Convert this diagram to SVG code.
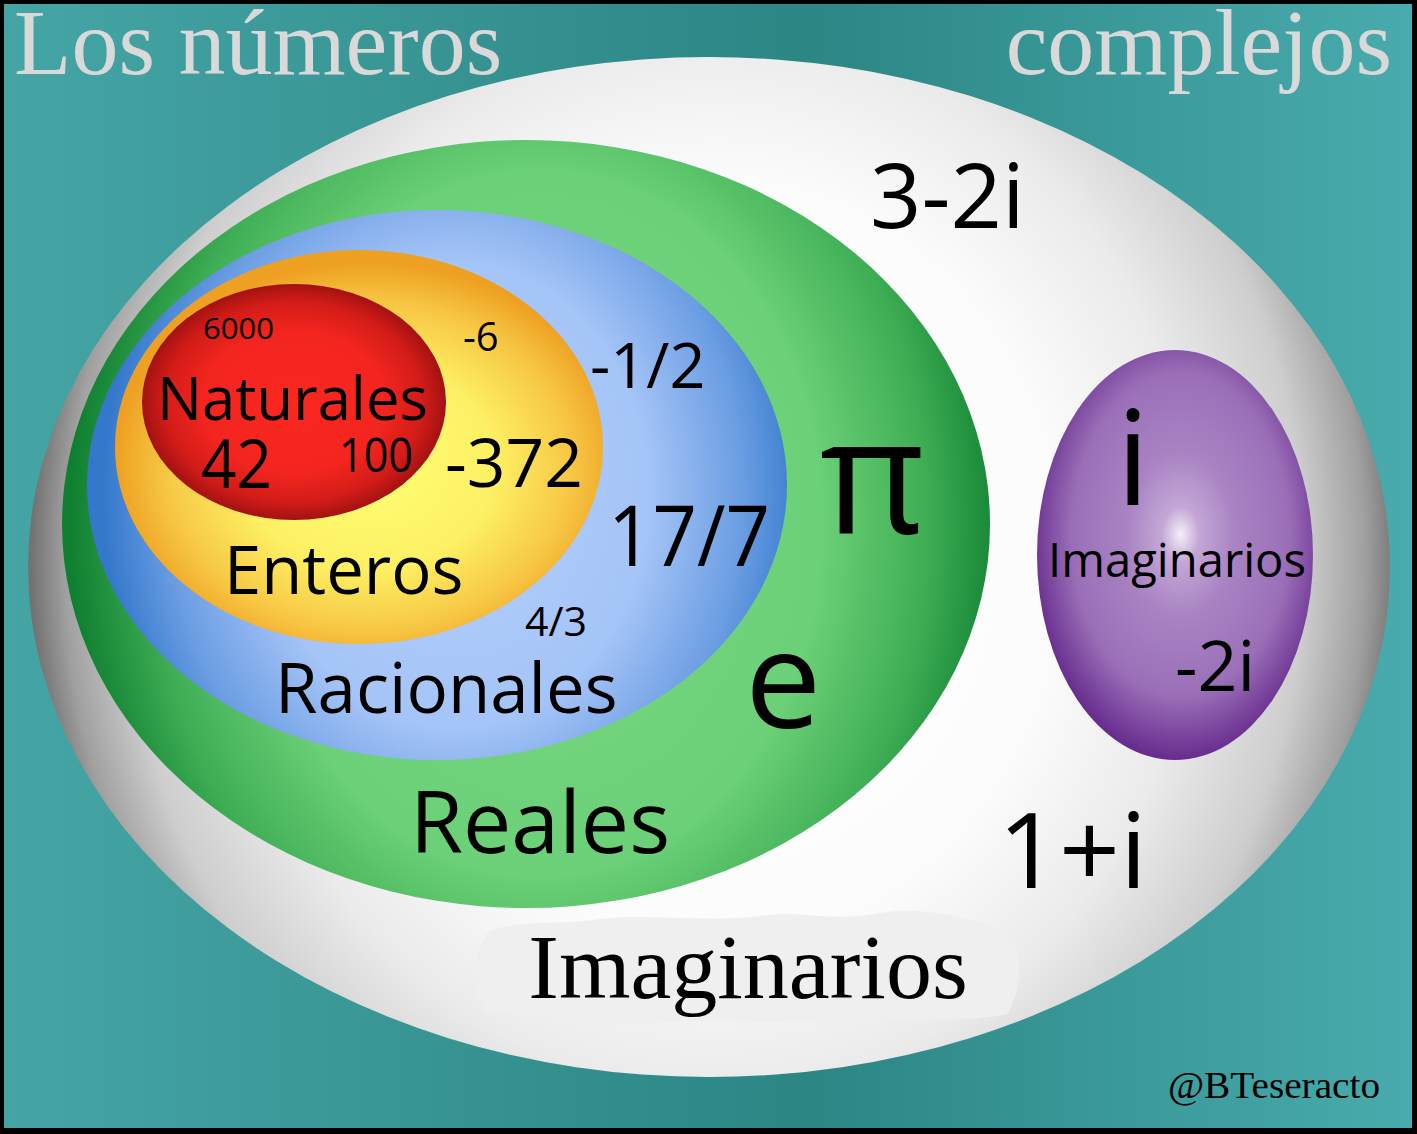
<svg xmlns="http://www.w3.org/2000/svg" width="1417" height="1134" viewBox="0 0 1417 1134">
  <defs>
    <linearGradient id="bg" x1="0" y1="0" x2="1" y2="0">
      <stop offset="0" stop-color="#45a5a5"/>
      <stop offset="0.57" stop-color="#2b8684"/>
      <stop offset="1" stop-color="#49abad"/>
    </linearGradient>
    <radialGradient id="gComplejos" gradientUnits="userSpaceOnUse" cx="715" cy="560" r="684" gradientTransform="translate(715 560) scale(1 1.1) translate(-715 -560)">
      <stop offset="0" stop-color="#ffffff"/>
      <stop offset="0.5" stop-color="#fcfcfc"/>
      <stop offset="0.7" stop-color="#ebebeb"/>
      <stop offset="0.86" stop-color="#cecece"/>
      <stop offset="0.95" stop-color="#a0a0a0"/>
      <stop offset="1" stop-color="#727272"/>
    </radialGradient>
    <radialGradient id="gReales" gradientUnits="userSpaceOnUse" cx="540" cy="524" r="470" gradientTransform="translate(540 524) scale(1 1.25) translate(-540 -524)">
      <stop offset="0" stop-color="#7bd985"/>
      <stop offset="0.6" stop-color="#6bd077"/>
      <stop offset="0.82" stop-color="#3fae55"/>
      <stop offset="1" stop-color="#0f7f31"/>
    </radialGradient>
    <radialGradient id="gRacionales" gradientUnits="userSpaceOnUse" cx="455" cy="495" r="352" gradientTransform="translate(455 495) scale(1 1.2) translate(-455 -495)">
      <stop offset="0" stop-color="#b3cffb"/>
      <stop offset="0.55" stop-color="#a5c4f7"/>
      <stop offset="0.82" stop-color="#6a9de2"/>
      <stop offset="1" stop-color="#3478cc"/>
    </radialGradient>
    <radialGradient id="gEnteros" cx="0.52" cy="0.55" r="0.52">
      <stop offset="0" stop-color="#ffff74"/>
      <stop offset="0.5" stop-color="#fdf064"/>
      <stop offset="0.8" stop-color="#f7c744"/>
      <stop offset="1" stop-color="#eea022"/>
    </radialGradient>
    <radialGradient id="gNaturales" cx="0.5" cy="0.5" r="0.5">
      <stop offset="0" stop-color="#f92820"/>
      <stop offset="0.6" stop-color="#f3251f"/>
      <stop offset="0.85" stop-color="#d21c18"/>
      <stop offset="1" stop-color="#a31212"/>
    </radialGradient>
    <radialGradient id="gImag" cx="0.52" cy="0.45" r="0.56">
      <stop offset="0" stop-color="#f5f0f8"/>
      <stop offset="0.12" stop-color="#c4a7d6"/>
      <stop offset="0.35" stop-color="#a983c3"/>
      <stop offset="0.7" stop-color="#9a6fb8"/>
      <stop offset="1" stop-color="#64288b"/>
    </radialGradient>
    <style>
      .sans { font-family: "Open Sans", "Noto Sans", "DejaVu Sans", sans-serif; fill: #000; }
      .serif { font-family: "Liberation Serif", "Times New Roman", serif; }
      .title { fill: #d9d9d9; font-size: 94px; }
    </style>
  </defs>

  <rect x="0" y="0" width="1417" height="1134" fill="#000"/>
  <rect x="4" y="4" width="1408" height="1124" fill="url(#bg)"/>

  <text class="serif title" x="14" y="74">Los números</text>
  <text class="serif title" x="1392" y="74" text-anchor="end">complejos</text>

  <g id="complejos">
    <ellipse cx="709" cy="567" rx="681" ry="510" fill="url(#gComplejos)"/>
    <path d="M488 932 C520 918 560 926 600 919 C650 913 700 923 760 916 C800 909 830 923 880 913 C920 906 960 916 1010 931 C1025 960 1020 990 1008 1014 C960 1024 900 1017 840 1021 C780 1025 720 1017 660 1023 C600 1027 540 1019 485 1011 C470 990 472 956 488 932 Z" fill="#efefef"/>
    <text class="sans" x="870" y="228" font-size="90">3-2i</text>
    <text class="sans" x="998" y="888" font-size="104" textLength="149" lengthAdjust="spacingAndGlyphs">1+i</text>
    <text class="serif" x="748" y="998" font-size="92" text-anchor="middle" fill="#000">Imaginarios</text>
  </g>

  <g id="reales">
    <ellipse cx="526" cy="524" rx="464" ry="384" fill="url(#gReales)"/>
    <text class="sans" x="820" y="533" font-size="162">π</text>
    <text class="sans" x="745" y="728" font-size="136">e</text>
    <text class="sans" x="410" y="853" font-size="86">Reales</text>
  </g>

  <g id="racionales">
    <ellipse cx="437" cy="485" rx="350" ry="275" fill="url(#gRacionales)"/>
    <text class="sans" x="590" y="388" font-size="63">-1/2</text>
    <text class="sans" x="608" y="566" font-size="84" textLength="162" lengthAdjust="spacingAndGlyphs">17/7</text>
    <text class="sans" x="525" y="636" font-size="41">4/3</text>
    <text class="sans" x="275" y="713" font-size="69">Racionales</text>
  </g>

  <g id="enteros">
    <ellipse cx="359" cy="447" rx="244" ry="197" fill="url(#gEnteros)"/>
    <text class="sans" x="463" y="351" font-size="40">-6</text>
    <text class="sans" x="445" y="487" font-size="68" textLength="138" lengthAdjust="spacingAndGlyphs">-372</text>
    <text class="sans" x="224" y="594" font-size="67">Enteros</text>
  </g>

  <g id="naturales">
    <ellipse cx="294" cy="402" rx="152" ry="118" fill="url(#gNaturales)"/>
    <text class="sans" x="203" y="339" font-size="29" textLength="71" lengthAdjust="spacingAndGlyphs">6000</text>
    <text class="sans" x="157" y="420" font-size="60" textLength="271" lengthAdjust="spacingAndGlyphs">Naturales</text>
    <text class="sans" x="201" y="488" font-size="67" textLength="71" lengthAdjust="spacingAndGlyphs">42</text>
    <text class="sans" x="339" y="472" font-size="47" textLength="74" lengthAdjust="spacingAndGlyphs">100</text>
  </g>

  <g id="imaginarios">
    <ellipse cx="1175" cy="555" rx="138" ry="205" fill="url(#gImag)"/>
    <text class="sans" x="1133" y="505" font-size="132" text-anchor="middle">i</text>
    <text class="sans" x="1177" y="577" font-size="47" text-anchor="middle" textLength="258" lengthAdjust="spacingAndGlyphs">Imaginarios</text>
    <text class="sans" x="1175" y="691" font-size="70">-2i</text>
  </g>

  <g id="connectors"></g>

  <text class="serif" x="1168" y="1098" font-size="38" fill="#000" textLength="212" lengthAdjust="spacingAndGlyphs">@BTeseracto</text>
</svg>
